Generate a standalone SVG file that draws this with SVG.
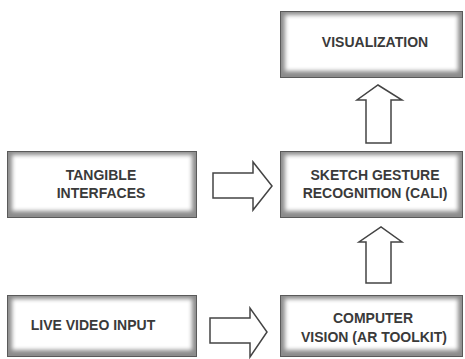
<svg xmlns="http://www.w3.org/2000/svg" width="465" height="359" viewBox="0 0 465 359">
<defs>
<filter id="soft" x="-10%" y="-20%" width="120%" height="140%"><feGaussianBlur stdDeviation="2.2"/></filter>
<clipPath id="c1"><rect x="280" y="11" width="183" height="67"/></clipPath>
<clipPath id="c2"><rect x="7" y="151" width="190" height="67"/></clipPath>
<clipPath id="c3"><rect x="280" y="151" width="183" height="67"/></clipPath>
<clipPath id="c4"><rect x="7" y="295" width="190" height="62"/></clipPath>
<clipPath id="c5"><rect x="280" y="295" width="183" height="62"/></clipPath>
</defs>
<style>
.frame{fill:#8c8c8c;}
.inner{fill:#ffffff;filter:url(#soft);}
.edge{fill:none;stroke:#5a5a5a;stroke-width:1;}
.lbl{font-family:"Liberation Sans",Arial,sans-serif;font-weight:bold;font-size:14px;fill:#3a3a3a;text-anchor:middle;}
.arrow{fill:#ffffff;stroke:#444444;stroke-width:1.5;stroke-linejoin:miter;}
</style>
<rect width="465" height="359" fill="#ffffff"/>
<g id="visualization">
<g clip-path="url(#c1)"><rect class="frame" x="280" y="11" width="183" height="67"/><rect class="inner" x="285" y="15" width="173" height="56"/></g>
<rect class="edge" x="280.5" y="11.5" width="182" height="66"/>
<text class="lbl" x="375" y="47">VISUALIZATION</text>
</g>
<g id="tangible">
<g clip-path="url(#c2)"><rect class="frame" x="7" y="151" width="190" height="67"/><rect class="inner" x="12" y="155" width="180" height="56"/></g>
<rect class="edge" x="7.5" y="151.5" width="189" height="66"/>
<text class="lbl" x="101" y="180">TANGIBLE</text>
<text class="lbl" x="101" y="198">INTERFACES</text>
</g>
<g id="sketch">
<g clip-path="url(#c3)"><rect class="frame" x="280" y="151" width="183" height="67"/><rect class="inner" x="285" y="155" width="173" height="56"/></g>
<rect class="edge" x="280.5" y="151.5" width="182" height="66"/>
<text class="lbl" x="375" y="180">SKETCH GESTURE</text>
<text class="lbl" x="375" y="198">RECOGNITION (CALI)</text>
</g>
<g id="live">
<g clip-path="url(#c4)"><rect class="frame" x="7" y="295" width="190" height="62"/><rect class="inner" x="12" y="299" width="180" height="51"/></g>
<rect class="edge" x="7.5" y="295.5" width="189" height="61"/>
<text class="lbl" x="93" y="330">LIVE VIDEO INPUT</text>
</g>
<g id="vision">
<g clip-path="url(#c5)"><rect class="frame" x="280" y="295" width="183" height="62"/><rect class="inner" x="285" y="299" width="173" height="51"/></g>
<rect class="edge" x="280.5" y="295.5" width="182" height="61"/>
<text class="lbl" x="373" y="323">COMPUTER</text>
<text class="lbl" x="374" y="342">VISION (AR TOOLKIT)</text>
</g>
<g id="connectors">
<polygon class="arrow" points="366,143 366,100 357,100 378,85 402,100 391,100 391,143"/>
<polygon class="arrow" points="366,283 366,242 359,242 381,227 402,242 391,242 391,283"/>
<polygon class="arrow" points="213,173 253,173 253,162 272,186 253,210 253,198 213,198"/>
<polygon class="arrow" points="210,318 250,318 250,308 267,332 250,357 250,343 210,343"/>
</g>
</svg>
